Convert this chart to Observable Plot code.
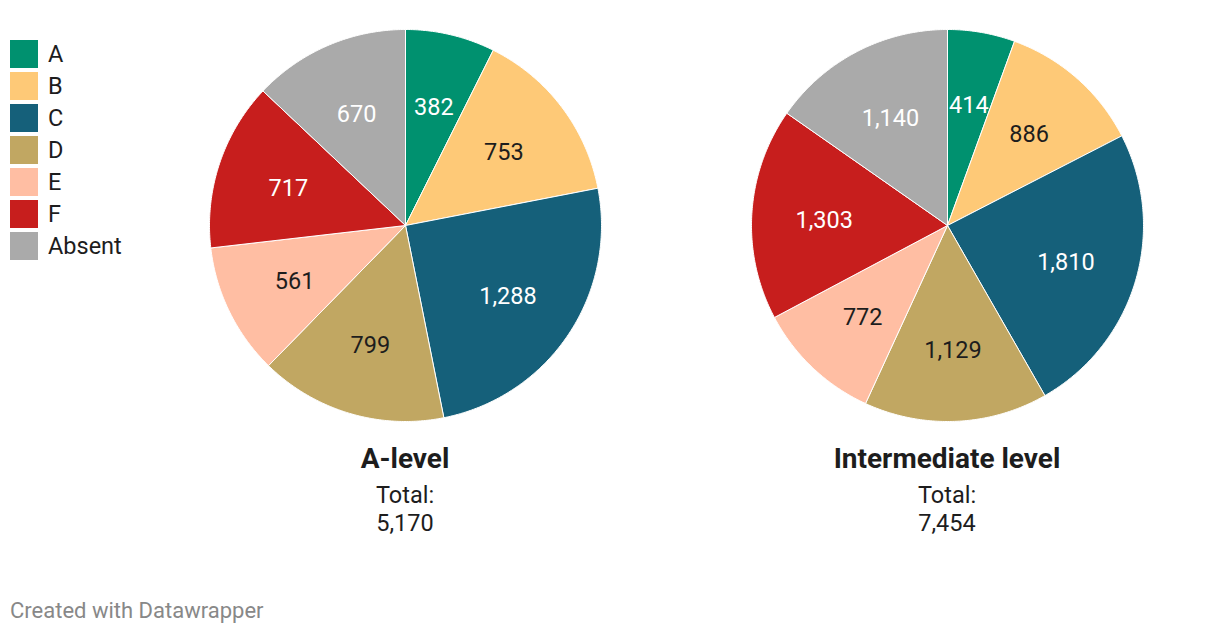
<!DOCTYPE html>
<html><head><meta charset="utf-8">
<script src="https://cdn.jsdelivr.net/npm/d3@7"></script>
<script src="https://cdn.jsdelivr.net/npm/@observablehq/plot@0.6"></script>
<style>
body{margin:0;background:#fff;font-family:Roboto,sans-serif;color:#1d1d1d}
#root{position:relative;width:1220px;height:634px;overflow:hidden}
.legend{position:absolute;left:10px;top:40px}
.li{display:flex;align-items:center;height:28px;margin-bottom:4px;font-size:23.5px}
.sw{width:28px;height:28px;margin-right:10px}
.pie{position:absolute;width:392px;height:392px}
.pie svg{overflow:visible}
.ttl{position:absolute;width:500px;text-align:center}
.ttl .h{font-weight:700;font-size:28px;line-height:30px;margin-bottom:7px}
.ttl .t{font-size:23.5px;line-height:28px}
.cap{position:absolute;left:10px;top:598px;font-size:22px;color:#888}
</style></head><body><div id="root"></div>
<script>
const grades = ["A","B","C","D","E","F","Absent"];
const gradeColors = ["#00916f","#fec977","#15607a","#c1a762","#ffbea3","#c71e1d","#aaaaaa"];
const whiteLabelGrades = ["A","C","F","Absent"];
const levels = ["A-level","Intermediate level"];
const aLevelValues = [382,753,1288,799,561,717,670];
const intermediateValues = [414,886,1810,1129,772,1303,1140];
const seriesValues = [aLevelValues, intermediateValues];

const root = document.getElementById("root");
const fmt = d3.format(",");

// legend
const leg = document.createElement("div"); leg.className = "legend";
grades.forEach((g,i)=>{
  const li = document.createElement("div"); li.className="li";
  const sw = document.createElement("div"); sw.className="sw"; sw.style.background=gradeColors[i];
  const tx = document.createElement("span"); tx.textContent = g;
  li.append(sw, tx); leg.append(li);
});
root.append(leg);

const centersX = [405, 947];
const centerY = 225;
const SIZE = 392;

levels.forEach((lvl, k)=>{
  const vals = seriesValues[k];
  const rows = grades.map((g,i)=>({grade:g, value:vals[i]}));
  const arcs = d3.pie().sort(null).value(d=>d.value)(rows);
  const pts = [];
  const labels = [];
  arcs.forEach(a=>{
    const g = a.data.grade;
    pts.push({grade:g, x:0, y:0});
    const n = Math.max(2, Math.ceil((a.endAngle-a.startAngle)/(Math.PI/360)));
    for(let j=0;j<=n;j++){
      const t = a.startAngle + (a.endAngle-a.startAngle)*j/n;
      pts.push({grade:g, x:Math.sin(t), y:Math.cos(t)});
    }
    pts.push({grade:g, x:0, y:0});
    const m = (a.startAngle+a.endAngle)/2;
    labels.push({grade:g, value:a.data.value, x:0.63*Math.sin(m), y:0.63*Math.cos(m)});
  });
  const chart = Plot.plot({
    width: SIZE, height: SIZE, margin: 0,
    x: {domain:[-1,1], axis:null},
    y: {domain:[-1,1], axis:null},
    color: {domain: grades, range: gradeColors},
    style: {fontFamily:"Roboto, sans-serif", background:"transparent"},
    marks: [
      Plot.line(pts, {x:"x", y:"y", z:"grade", fill:"grade", stroke:"white", strokeWidth:1, curve:"linear"}),
      Plot.text(labels, {x:"x", y:"y", text:d=>fmt(d.value), fontSize:23.5, dy:2,
        fill:d=>whiteLabelGrades.includes(d.grade)?"#ffffff":"#1d1d1d"})
    ]
  });
  const div = document.createElement("div"); div.className="pie";
  div.style.left = (centersX[k]-SIZE/2)+"px"; div.style.top=(centerY-SIZE/2)+"px";
  div.append(chart); root.append(div);

  const total = d3.sum(vals);
  const t = document.createElement("div"); t.className="ttl";
  t.style.left = (centersX[k]-250)+"px"; t.style.top = "444px";
  t.innerHTML = `<div class="h">${lvl}</div><div class="t">Total:</div><div class="t">${fmt(total)}</div>`;
  root.append(t);
});

const cap = document.createElement("div"); cap.className="cap"; cap.textContent="Created with Datawrapper";
root.append(cap);
</script>
</body></html>
